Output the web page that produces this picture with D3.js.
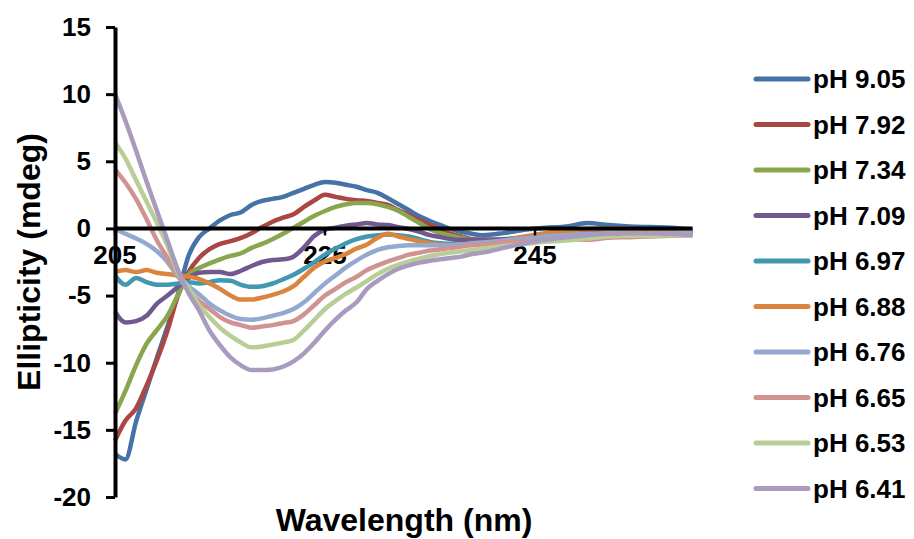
<!DOCTYPE html>
<html>
<head>
<meta charset="utf-8">
<script src="https://cdn.jsdelivr.net/npm/d3@7"></script>
<style>
  body { margin: 0; background: #fff; }
  text { font-family: "Liberation Sans", Arial, sans-serif; font-weight: bold; fill: #000; }
</style>
</head>
<body>
<svg id="chart" width="914" height="539"></svg>
<script>
// wavelength (nm)
const wavelengths = [205, 206, 207, 208, 209, 210, 211, 212, 213, 214, 215, 216, 217, 218, 219, 220,
  221, 222, 223, 224, 225, 226, 227, 228, 229, 230, 231, 232, 233, 234, 235, 236, 237, 238, 239, 240,
  242, 244, 246, 248, 250, 252, 254, 256, 258, 260];

const ph905 = [-16.8, -17.2, -14.4, -12.0, -9.6, -7.3, -4.9, -2.05, -0.65, 0.0, 0.6, 1.0, 1.2, 1.75, 2.05, 2.2,
  2.35, 2.65, 2.95, 3.25, 3.45, 3.4, 3.25, 3.1, 2.85, 2.65, 2.25, 1.8, 1.35, 0.9, 0.55, 0.25, -0.05, -0.25, -0.4, -0.5,
  -0.35, -0.1, 0.05, 0.15, 0.4, 0.25, 0.15, 0.1, 0.05, -0.1];
const ph792 = [-15.8, -14.3, -13.4, -11.7, -9.8, -7.6, -5.0, -3.25, -2.2, -1.55, -1.15, -0.95, -0.7, -0.35, 0.1, 0.5,
  0.8, 1.05, 1.6, 2.1, 2.5, 2.35, 2.2, 2.1, 2.05, 1.9, 1.75, 1.35, 1.0, 0.6, 0.25, -0.1, -0.4, -0.6, -0.8, -0.85,
  -0.85, -0.7, -0.55, -0.4, -0.35, -0.4, -0.4, -0.35, -0.35, -0.25];
const ph734 = [-13.8, -12.1, -10.2, -8.6, -7.55, -6.5, -4.95, -3.45, -2.95, -2.6, -2.3, -2.05, -1.85, -1.45, -1.15, -0.8,
  -0.4, 0.05, 0.5, 0.95, 1.3, 1.6, 1.8, 1.9, 1.9, 1.8, 1.6, 1.3, 0.85, 0.4, -0.05, -0.35, -0.55, -0.7, -0.85, -0.95,
  -0.85, -0.8, -0.7, -0.65, -0.5, -0.5, -0.5, -0.5, -0.5, -0.45];
const ph709 = [-6.2, -7.0, -6.9, -6.5, -5.6, -5.0, -4.35, -3.7, -3.3, -3.25, -3.25, -3.4, -3.15, -2.8, -2.5, -2.35,
  -2.3, -2.1, -1.4, -0.55, -0.1, 0.05, 0.2, 0.3, 0.4, 0.3, 0.25, 0.1, -0.05, -0.25, -0.5, -0.65, -0.8, -0.85, -0.85, -0.85,
  -0.8, -0.65, -0.5, -0.4, -0.3, -0.35, -0.35, -0.35, -0.3, -0.3];
const ph697 = [-3.5, -4.2, -3.7, -4.0, -4.2, -4.2, -4.1, -4.0, -4.1, -4.0, -3.85, -3.9, -4.2, -4.35, -4.3, -4.1,
  -3.8, -3.45, -3.0, -2.5, -1.95, -1.5, -1.1, -0.8, -0.6, -0.5, -0.45, -0.5, -0.6, -0.8, -1.0, -1.1, -1.15, -1.2, -1.2, -1.15,
  -1.0, -0.8, -0.65, -0.55, -0.5, -0.45, -0.45, -0.45, -0.4, -0.4];
const ph688 = [-3.25, -3.1, -3.25, -3.1, -3.3, -3.4, -3.5, -3.6, -3.75, -4.1, -4.5, -5.0, -5.3, -5.3, -5.15, -4.95,
  -4.7, -4.3, -3.6, -2.9, -2.45, -2.2, -1.9, -1.5, -1.2, -0.7, -0.4, -0.6, -0.8, -0.95, -1.1, -1.2, -1.25, -1.25, -1.2, -1.1,
  -0.9, -0.6, -0.35, -0.2, -0.05, 0.0, -0.05, -0.1, -0.15, -0.25];
const ph676 = [0.0, -0.4, -0.75, -1.15, -1.7, -2.5, -3.6, -4.3, -4.9, -5.6, -6.1, -6.5, -6.75, -6.8, -6.7, -6.5,
  -6.3, -6.0, -5.5, -4.8, -4.1, -3.5, -2.9, -2.4, -1.95, -1.6, -1.4, -1.3, -1.25, -1.25, -1.25, -1.25, -1.25, -1.2, -1.1, -1.05,
  -0.9, -0.75, -0.6, -0.5, -0.4, -0.35, -0.35, -0.35, -0.35, -0.3];
const ph665 = [4.4, 3.4, 2.2, 0.7, -0.9, -2.2, -3.5, -4.6, -5.4, -6.0, -6.6, -7.0, -7.2, -7.4, -7.3, -7.2,
  -7.05, -6.9, -6.4, -5.7, -5.0, -4.5, -4.0, -3.6, -3.1, -2.75, -2.45, -2.2, -1.95, -1.8, -1.65, -1.55, -1.45, -1.35, -1.25, -1.2,
  -1.05, -0.95, -0.9, -0.85, -0.85, -0.7, -0.65, -0.6, -0.55, -0.5];
const ph653 = [6.4, 5.2, 3.6, 2.0, 0.4, -1.3, -3.3, -4.4, -5.7, -6.6, -7.4, -8.0, -8.5, -8.85, -8.8, -8.65,
  -8.5, -8.3, -7.6, -6.8, -6.0, -5.4, -4.85, -4.4, -3.9, -3.4, -3.0, -2.7, -2.45, -2.25, -2.05, -1.9, -1.8, -1.7, -1.6, -1.5,
  -1.3, -1.15, -1.0, -0.9, -0.75, -0.6, -0.55, -0.55, -0.5, -0.5];
const ph641 = [10.0, 8.0, 5.8, 3.5, 1.3, -0.9, -3.1, -4.8, -6.1, -7.6, -8.7, -9.6, -10.2, -10.55, -10.55, -10.5,
  -10.3, -9.9, -9.3, -8.5, -7.6, -6.8, -6.1, -5.5, -4.5, -3.9, -3.4, -3.0, -2.75, -2.55, -2.4, -2.3, -2.2, -2.1, -1.9, -1.8,
  -1.45, -1.1, -0.85, -0.65, -0.5, -0.4, -0.35, -0.35, -0.4, -0.5];

const seriesNames = ["pH 9.05", "pH 7.92", "pH 7.34", "pH 7.09", "pH 6.97", "pH 6.88", "pH 6.76", "pH 6.65", "pH 6.53", "pH 6.41"];
const seriesValues = [ph905, ph792, ph734, ph709, ph697, ph688, ph676, ph665, ph653, ph641];
const seriesColors = ["#4572A7", "#AA4643", "#89A54E", "#71588F", "#4198AF", "#DB843D", "#93A9CF", "#D19392", "#B9CD96", "#A99BBD"];

const yTicks = [-20, -15, -10, -5, 0, 5, 10, 15];
const xTicks = [205, 225, 245];

const svg = d3.select("#chart");

const x = d3.scaleLinear().domain([205, 260]).range([115, 692.5]);
const y = d3.scaleLinear().domain([-20, 15]).range([497, 27]);

// x tick labels sit just under the zero line
svg.append("g").selectAll("text")
  .data(xTicks)
  .enter().append("text")
    .attr("x", d => x(d))
    .attr("y", y(0) + 36)
    .attr("text-anchor", "middle")
    .attr("font-size", "26px")
    .text(d => d);

// series
const line = d3.line()
  .x((d, i) => x(wavelengths[i]))
  .y(d => y(d))
  .curve(d3.curveMonotoneX);

svg.append("g").selectAll("path")
  .data(seriesValues)
  .enter().append("path")
    .attr("d", d => line(d))
    .attr("fill", "none")
    .attr("stroke", (d, i) => seriesColors[i])
    .attr("stroke-width", 4.5)
    .attr("stroke-linejoin", "round");

// zero line with small ticks
svg.append("line")
  .attr("x1", x(205)).attr("x2", x(260))
  .attr("y1", y(0)).attr("y2", y(0))
  .attr("stroke", "#000").attr("stroke-width", 4);

svg.append("g").selectAll("line")
  .data(xTicks)
  .enter().append("line")
    .attr("x1", d => x(d)).attr("x2", d => x(d))
    .attr("y1", y(0)).attr("y2", y(0) + 7)
    .attr("stroke", "#000").attr("stroke-width", 2.5);

// y axis
const yAxis = svg.append("g")
  .attr("transform", "translate(" + x(205) + ",0)")
  .call(d3.axisLeft(y).tickValues(yTicks).tickFormat(d => String(d))
    .tickSize(9).tickSizeOuter(0).tickPadding(15));

yAxis.select(".domain").attr("stroke", "#000").attr("stroke-width", 4);
yAxis.selectAll(".tick line").attr("stroke", "#000").attr("stroke-width", 3);
yAxis.selectAll(".tick text")
  .attr("font-size", "26px")
  .attr("font-family", "Liberation Sans, Arial, sans-serif")
  .attr("font-weight", "bold")
  .attr("fill", "#000");

// axis titles
svg.append("text")
  .attr("x", 404)
  .attr("y", 531)
  .attr("text-anchor", "middle")
  .attr("font-size", "32px")
  .text("Wavelength (nm)");

svg.append("text")
  .attr("transform", "translate(40,262) rotate(-90)")
  .attr("text-anchor", "middle")
  .attr("font-size", "32px")
  .text("Ellipticity (mdeg)");

// legend
const legend = svg.append("g").selectAll("g")
  .data(seriesNames)
  .enter().append("g")
    .attr("transform", (d, i) => "translate(0," + (79 + i * 45.5) + ")");

legend.append("line")
  .attr("x1", 756).attr("x2", 808)
  .attr("stroke", (d, i) => seriesColors[i])
  .attr("stroke-width", 5)
  .attr("stroke-linecap", "round");

legend.append("text")
  .attr("x", 813)
  .attr("y", 9)
  .attr("font-size", "26px")
  .text(d => d);
</script>
</body>
</html>
